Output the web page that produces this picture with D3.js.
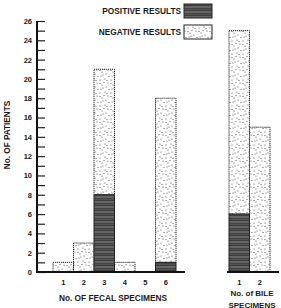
<!DOCTYPE html>
<html>
<head>
<meta charset="utf-8">
<script src="https://cdn.jsdelivr.net/npm/d3@7"></script>
<style>
  body { margin: 0; background: #fff; }
  text { font-family: "Liberation Sans", Arial, sans-serif; font-weight: bold; fill: #1a1a1a; }
</style>
</head>
<body>
<div id="chart"></div>
<script>
// data
var fecalCategories = ["1", "2", "3", "4", "5", "6"];
var fecalPositive = [0, 0, 8, 0, 0, 1];
var fecalNegative = [1, 3, 13, 1, 0, 17];
var bileCategories = ["1", "2"];
var bilePositive = [6, 0];
var bileNegative = [19, 15];
var yTickLabels = [0, 2, 4, 6, 8, 10, 12, 14, 16, 18, 20, 22, 24, 26];
var legendLabels = ["POSITIVE RESULTS", "NEGATIVE RESULTS"];

var width = 281, height = 308;
var svg = d3.select('#chart').append('svg').attr('width', width).attr('height', height);

// patterns for the two result types
var defs = svg.append('defs');
var pos = defs.append('pattern').attr('id', 'pos').attr('patternUnits', 'userSpaceOnUse')
    .attr('width', 8).attr('height', 5);
pos.append('rect').attr('width', 8).attr('height', 5).attr('fill', '#3e3e3e');
pos.append('line').attr('x1', 0).attr('x2', 8).attr('y1', 2).attr('y2', 2)
    .attr('stroke', '#a0a0a0').attr('stroke-width', 0.8);
pos.append('line').attr('x1', 0).attr('x2', 8).attr('y1', 4.3).attr('y2', 4.3)
    .attr('stroke', '#707070').attr('stroke-width', 0.5);

var neg = defs.append('pattern').attr('id', 'neg').attr('patternUnits', 'userSpaceOnUse')
    .attr('width', 11).attr('height', 13);
neg.append('rect').attr('width', 11).attr('height', 13).attr('fill', '#fff');
[[1, 2], [6, 1], [9, 5], [3, 7], [7, 9], [2, 11], [5, 4.5], [10, 11.5], [4, 10], [8, 2.5], [1, 5.5]].forEach(function (p) {
    neg.append('circle').attr('cx', p[0]).attr('cy', p[1]).attr('r', 0.6).attr('fill', '#4a4a4a');
});

var y = d3.scaleLinear().domain([0, 26]).range([272, 21]);
var xFecal = d3.scaleBand().domain(fecalCategories).range([53, 176]).padding(0);
var xBile = d3.scaleBand().domain(bileCategories).range([229, 270]).padding(0);

// y axis: ticks every unit pointing right, labels on even values
var yAxis = d3.axisLeft(y)
    .tickValues(d3.range(0, 27))
    .tickSize(-8)
    .tickPadding(5)
    .tickFormat(function (d) { return yTickLabels.indexOf(d) >= 0 ? d : ''; });
var gy = svg.append('g').attr('transform', 'translate(37,0)').call(yAxis);
gy.select('.domain').remove();
gy.selectAll('.tick line').attr('stroke', '#222').attr('stroke-width', 1.2);
gy.selectAll('.tick text').attr('font-size', 7.5).style('font-weight', 'bold');
svg.append('line').attr('x1', 37).attr('x2', 37).attr('y1', y(26)).attr('y2', y(0))
    .attr('stroke', '#111').attr('stroke-width', 2);

function drawBars(x, cats, positive, negative) {
    var g = svg.append('g');
    var rows = cats.map(function (c, i) { return { c: c, p: positive[i], n: negative[i] }; })
        .filter(function (d) { return d.p + d.n > 0; });
    g.selectAll('rect.n').data(rows).enter().append('rect').attr('class', 'n')
        .attr('x', function (d) { return x(d.c); })
        .attr('width', x.bandwidth())
        .attr('y', function (d) { return y(d.p + d.n); })
        .attr('height', function (d) { return y(d.p) - y(d.p + d.n); })
        .attr('fill', 'url(#neg)')
        .attr('stroke', '#222').attr('stroke-width', 1).attr('stroke-dasharray', '1.2,0.8');
    g.selectAll('rect.p').data(rows.filter(function (d) { return d.p > 0; })).enter().append('rect').attr('class', 'p')
        .attr('x', function (d) { return x(d.c); })
        .attr('width', x.bandwidth())
        .attr('y', function (d) { return y(d.p); })
        .attr('height', function (d) { return y(0) - y(d.p); })
        .attr('fill', 'url(#pos)')
        .attr('stroke', '#222').attr('stroke-width', 1);
    // category labels
    var ax = d3.axisBottom(x).tickSize(0).tickPadding(8);
    var gx = svg.append('g').attr('transform', 'translate(0,' + y(0) + ')').call(ax);
    gx.select('.domain').remove();
    gx.selectAll('.tick text').attr('font-size', 7.5).style('font-weight', 'bold');
}

drawBars(xFecal, fecalCategories, fecalPositive, fecalNegative);
drawBars(xBile, bileCategories, bilePositive, bileNegative);

// baselines
svg.append('line').attr('x1', 36).attr('x2', 185).attr('y1', y(0)).attr('y2', y(0))
    .attr('stroke', '#111').attr('stroke-width', 2);
svg.append('line').attr('x1', 227).attr('x2', 279).attr('y1', y(0)).attr('y2', y(0))
    .attr('stroke', '#111').attr('stroke-width', 2);

// titles
svg.append('text').attr('transform', 'translate(9.5,135) rotate(-90)')
    .attr('text-anchor', 'middle').attr('font-size', 8.2).text('No. OF PATIENTS');
svg.append('text').attr('x', 113).attr('y', 301).attr('text-anchor', 'middle')
    .attr('font-size', 8.3).text('No. OF FECAL SPECIMENS');
svg.append('text').attr('x', 252).attr('y', 295.5).attr('text-anchor', 'middle')
    .attr('font-size', 8).text('No. of BILE');
svg.append('text').attr('x', 252).attr('y', 307.5).attr('text-anchor', 'middle')
    .attr('font-size', 8).text('SPECIMENS');

// legend
var legend = svg.append('g');
legendLabels.forEach(function (lab, i) {
    var ly = i === 0 ? 4 : 25;
    legend.append('rect').attr('x', 184).attr('y', ly).attr('width', 28).attr('height', 14)
        .attr('fill', i === 0 ? 'url(#pos)' : 'url(#neg)')
        .attr('stroke', '#222').attr('stroke-width', 1);
    legend.append('text').attr('x', 181).attr('y', ly + 10).attr('text-anchor', 'end')
        .attr('font-size', 8.3).text(lab);
});
</script>
</body>
</html>
